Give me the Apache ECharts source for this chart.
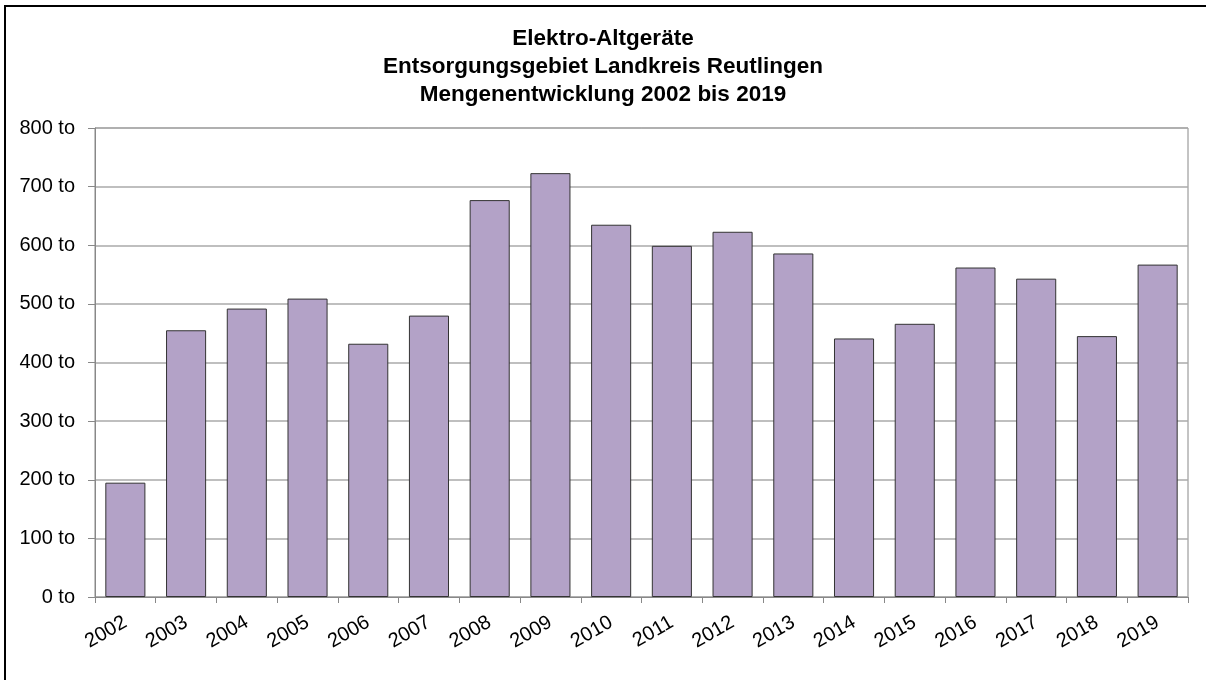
<!DOCTYPE html>
<html>
<head>
<meta charset="utf-8">
<script src="https://cdn.jsdelivr.net/npm/echarts@6/dist/echarts.min.js"></script>
<style>
  html, body { margin: 0; padding: 0; background: #fff; }
  #chart { width: 1206px; height: 680px; }
</style>
</head>
<body>
<div id="chart"></div>
<script>
  /** Data */
  var years = ['2002', '2003', '2004', '2005', '2006', '2007', '2008', '2009', '2010',
    '2011', '2012', '2013', '2014', '2015', '2016', '2017', '2018', '2019'];
  var mengen = [195, 455, 492, 509, 432, 480, 677, 723, 635,
    599, 623, 586, 441, 466, 562, 543, 445, 567];
  var titleLines = ['Elektro-Altgeräte', 'Entsorgungsgebiet Landkreis Reutlingen', 'Mengenentwicklung 2002 bis 2019'];

  /** Chart */
  var option = {
    backgroundColor: '#fff',
    animation: false,
    textStyle: { fontFamily: 'Liberation Sans, Arial, sans-serif' },
    title: {
      text: titleLines.join('\n'),
      left: 'center',
      top: 20,
      textStyle: {
        fontSize: 22.5,
        fontWeight: 'bold',
        color: '#000',
        lineHeight: 28,
        fontFamily: 'Liberation Sans, Arial, sans-serif'
      }
    },
    graphic: [{
      type: 'rect',
      shape: { x: 5, y: 6, width: 1220, height: 700 },
      style: { fill: 'none', stroke: '#000', lineWidth: 2 },
      silent: true
    }],
    grid: {
      left: 95, right: 18, top: 128, bottom: 83,
      show: true, borderColor: '#888', borderWidth: 1
    },
    xAxis: {
      type: 'category',
      data: years,
      axisLine: { lineStyle: { color: '#888' } },
      axisTick: { show: true, length: 6, lineStyle: { color: '#888' } },
      axisLabel: {
        rotate: 30,
        fontSize: 20,
        color: '#000',
        margin: 24,
        interval: 0
      }
    },
    yAxis: {
      type: 'value',
      min: 0,
      max: 800,
      interval: 100,
      axisLine: { show: true, lineStyle: { color: '#888' } },
      axisTick: { show: true, length: 7, lineStyle: { color: '#888' } },
      splitLine: { lineStyle: { color: '#aaa', width: 1.5 } },
      axisLabel: {
        fontSize: 20,
        color: '#000',
        margin: 20,
        formatter: '{value} to'
      }
    },
    series: [{
      name: 'Menge',
      type: 'bar',
      data: mengen,
      barCategoryGap: '34%',
      itemStyle: { color: '#B3A2C7', borderColor: '#333', borderWidth: 1 }
    }]
  };
  echarts.init(document.getElementById('chart')).setOption(option);
</script>
</body>
</html>
